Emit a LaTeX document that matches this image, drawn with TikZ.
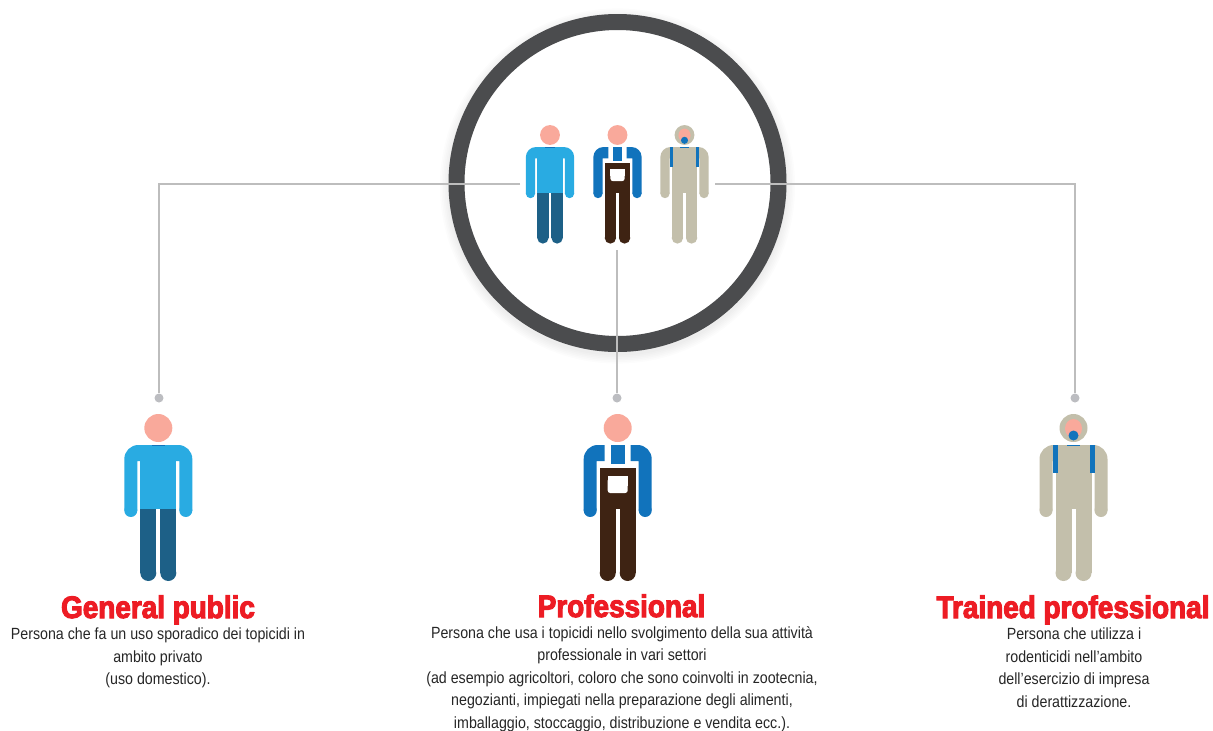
\documentclass[tikz,border=0pt]{standalone}
\usepackage{fontspec}
\usepackage{xcolor}
\usetikzlibrary{math}
\setmainfont{Liberation Sans}
\newfontfamily\titlefont[FakeStretch=0.9,FakeBold=3.5]{Liberation Sans Bold}
\newfontfamily\bodyfont[FakeStretch=0.878]{Liberation Sans}
\definecolor{ringgray}{HTML}{4B4C4E}
\definecolor{wiregray}{HTML}{BDBDBD}
\definecolor{pingray}{HTML}{BCBDC1}
\definecolor{skin}{HTML}{F9A99B}
\definecolor{shirtblue}{HTML}{29ABE2}
\definecolor{jeans}{HTML}{1D6087}
\definecolor{workblue}{HTML}{1173BC}
\definecolor{apron}{HTML}{3E2313}
\definecolor{suit}{HTML}{C3BFAB}
\definecolor{titlered}{HTML}{ED1C24}
%arms and legs of a figure, origin is the centre of the head
\newcommand{\figurelimbs}[2]{
    \fill[#1] (-34,31) .. controls (-34,23.3) and (-27.7,17) .. (-20,17) -- (-13,17) -- (-13,33) -- (-21,33) -- (-21,82.5) -- (-34,82.5) -- cycle;
    \fill[#1] (34,31) .. controls (34,23.3) and (27.7,17) .. (20,17) -- (13,17) -- (13,33) -- (21,33) -- (21,82.5) -- (34,82.5) -- cycle;
    \fill[#1] (-27.5,82.5) circle (6.5);
    \fill[#1] (27.5,82.5) circle (6.5);
    \fill[#2] (-18,70) rectangle (-2,145);
    \fill[#2] (18,70) rectangle (2,145);
    \fill[#2] (-10,145) circle (8);
    \fill[#2] (10,145) circle (8);
}
\tikzset{
    x=1pt,y=-1pt,
    wire/.style = {draw=wiregray,line width=2.6pt},
    dotpin/.style = {circle,fill=pingray,minimum size=9pt,inner sep=0pt},
    heading/.style = {text=titlered,font=\titlefont\fontsize{31}{31}\selectfont,inner sep=0pt,anchor=base},
    blurb/.style = {align=center,text=black!85,font=\bodyfont\fontsize{16.2}{22.5}\selectfont,inner sep=0pt,anchor=north},
    pics/civilian/.style = {code={
        \figurelimbs{shirtblue}{jeans}
        \fill[shirtblue] (-18,17) rectangle (18,81);
        \fill[workblue] (-6.5,16.5) rectangle (6.5,17.5);
        \fill[skin] (0,0) circle (14);
    }},
    pics/farmer/.style = {code={
        \figurelimbs{workblue}{apron}
        \fill[workblue] (-7,17) rectangle (7,36);
        \fill[apron] (-18,40) rectangle (18,81);
        \fill[white] (-10,48) rectangle (10,58);
        \fill[white,rounded corners=2.5pt] (-10,50) rectangle (10,65);
        \fill[skin] (0,0) circle (14);
    }},
    pics/expert/.style = {code={
        \figurelimbs{suit}{suit}
        \fill[suit] (-21,17) rectangle (21,45);
        \fill[suit] (-18,45) rectangle (18,81);
        \fill[workblue] (-21,17) rectangle (-16,45);
        \fill[workblue] (16,17) rectangle (21,45);
        \fill[workblue] (-6.5,16.5) rectangle (6.5,17.5);
        \fill[suit] (0,0) circle (14);
        \fill[skin] (0,0.5) ellipse (8.5 and 9.5);
        \fill[workblue] (0,7.5) circle (5);
    }},
}
\begin{document}
\begin{tikzpicture}
    \useasboundingbox (0,0) rectangle (1213,731);
    \tikzmath{ \ringr = 161; \figscale = 0.71; } %centre line of the ring
    %soft shadow under the ring
    \foreach \i in {1,...,6}{
        \fill[black,opacity=0.012] (617.5,186) circle (\ringr+7+\i*1.6);
    }
    \draw[ringgray,fill=white,line width=16pt] (617.5,183) circle (\ringr);
    %pins under the ring and the free ends of the wires
    \node[dotpin] (pinA) at (159,398) {};
    \node[dotpin] (pinB) at (617,398) {};
    \node[dotpin] (pinC) at (1075,398) {};
    \coordinate (wireA) at (520,184);
    \coordinate (wireB) at (617,250);
    \coordinate (wireC) at (715,184);
    \draw[wire] (wireA) -| (pinA);
    \draw[wire] (wireB) -- (pinB);
    \draw[wire] (wireC) -| (pinC);
    %small figures
    \pic[scale=\figscale] at (550,135) {civilian};
    \pic[scale=\figscale] at (617.5,135) {farmer};
    \pic[scale=\figscale] at (684.5,135) {expert};
    %large figures
    \pic at (158.3,428) {civilian};
    \pic at (617.7,428) {farmer};
    \pic at (1073.5,428) {expert};
    %texts
    \node[heading] (titleA) at (158,618) {General public};
    \node[heading] (titleB) at (621.5,617) {Professional};
    \node[heading] (titleC) at (1073,618) {Trained professional};
    \node[blurb] (textA) at (158,628) {Persona che fa un uso sporadico dei topicidi in\\ambito privato\\(uso domestico).};
    \node[blurb] (textB) at (622,626) {Persona che usa i topicidi nello svolgimento della sua attività\\professionale in vari settori\\(ad esempio agricoltori, coloro che sono coinvolti in zootecnia,\\negozianti, impiegati nella preparazione degli alimenti,\\imballaggio, stoccaggio, distribuzione e vendita ecc.).};
    \node[blurb] (textC) at (1074,628) {Persona che utilizza i\\rodenticidi nell’ambito\\dell’esercizio di impresa\\di derattizzazione.};
\end{tikzpicture}
\end{document}
